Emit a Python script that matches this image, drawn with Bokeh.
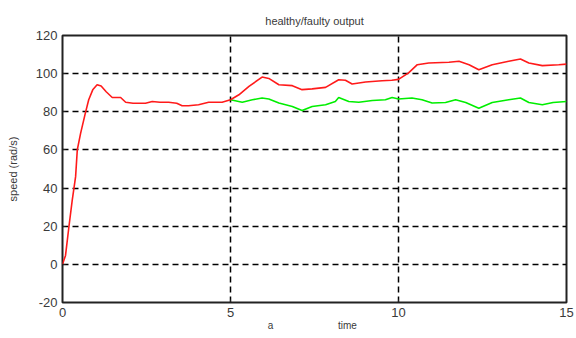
from bokeh.plotting import figure
from bokeh.models import Range1d, FixedTicker, LinearAxis
from bokeh.embed import file_html
from bokeh.resources import INLINE

# Common (healthy = faulty) part, 0..5 s
t_common = [0, 0.09, 0.19, 0.29, 0.39, 0.44, 0.54, 0.68, 0.78, 0.9, 1.03, 1.15, 1.3,
            1.48, 1.73, 1.88, 2.1, 2.47, 2.67, 2.9, 3.16, 3.4, 3.56, 3.75, 4.05, 4.35,
            4.75, 5.0]
speed_common = [0, 4.7, 19.6, 33.7, 46, 60, 68.8, 79.3, 86.3, 91.5, 94.2, 93.5, 90.5,
                87.5, 87.5, 85, 84.5, 84.5, 85.4, 85, 85, 84.5, 83.2, 83.2, 83.7, 85,
                85, 86.3]

# Faulty output (red) after 5 s
t_faulty = [5.0, 5.25, 5.55, 5.94, 6.14, 6.44, 6.84, 7.13, 7.43, 7.83, 8.22, 8.42, 8.62,
            9.02, 9.51, 9.8, 10.0, 10.3, 10.56, 10.9, 11.5, 11.8, 12.1, 12.39, 12.79,
            13.28, 13.63, 13.88, 14.28, 14.77, 15.0]
speed_faulty = [86.3, 88.9, 93.3, 98.2, 97.5, 94.2, 93.7, 91.6, 92, 92.8, 96.8, 96.5,
                94.6, 95.6, 96.3, 96.5, 97, 100.4, 104.7, 105.6, 106, 106.5, 104.7, 102,
                104.7, 106.5, 107.7, 105.6, 104.2, 104.7, 105]

# Healthy output (green) after 5 s
t_healthy = [5.0, 5.35, 5.65, 5.94, 6.14, 6.44, 6.84, 7.13, 7.43, 7.83, 8.12, 8.22, 8.52,
             8.82, 9.22, 9.61, 9.81, 10.0, 10.4, 10.7, 11.0, 11.4, 11.7, 12.0, 12.39,
             12.79, 13.28, 13.63, 13.88, 14.28, 14.6, 15.0]
speed_healthy = [86.3, 85, 86.3, 87.2, 86.7, 84.6, 82.8, 80.7, 82.8, 83.7, 85.4, 87.5,
                 85.4, 85, 85.9, 86.3, 87.5, 86.7, 87.2, 86.3, 84.6, 84.9, 86.3, 84.9,
                 81.9, 84.9, 86.3, 87.2, 84.9, 83.7, 84.9, 85.4]

x_ticks = [0, 5, 10, 15]
y_ticks = [-20, 0, 20, 40, 60, 80, 100, 120]

# bottom captions ("a" sub-figure mark and the "time" axis title) and where they sit
caption_pos = [6.19, 8.48]
caption_text = ["a", "time"]

TXT = "#3a3a3a"
FONT = "Liberation Sans"

p = figure(width=576, height=338, output_backend="svg", toolbar_location=None,
           x_range=Range1d(0, 15), y_range=Range1d(-20, 120),
           min_border_left=62, min_border_right=10, min_border_top=35,
           min_border_bottom=36)

p.title.text = "healthy/faulty output"
p.title.align = "center"
p.title.text_font = FONT
p.title.text_font_size = "11px"
p.title.text_font_style = "normal"
p.title.text_color = TXT
p.title.standoff = 17

p.xaxis.ticker = FixedTicker(ticks=x_ticks)
p.yaxis.ticker = FixedTicker(ticks=y_ticks)
p.yaxis.major_label_overrides = {-20: "-20"}
for ax in (p.xaxis[0], p.yaxis[0]):
    ax.major_label_text_font = FONT
    ax.major_label_text_font_size = "13px"
    ax.major_label_text_color = TXT
    ax.axis_line_color = None
    ax.major_tick_line_color = "#222222"
    ax.major_tick_in = 3
    ax.major_tick_out = 0
    ax.minor_tick_line_color = None
p.xaxis.major_label_standoff = 5
p.yaxis.major_label_standoff = 5

p.yaxis.axis_label = "speed (rad/s)"
p.yaxis.axis_label_text_font = FONT
p.yaxis.axis_label_text_font_size = "11px"
p.yaxis.axis_label_text_font_style = "normal"
p.yaxis.axis_label_text_color = TXT
p.yaxis.axis_label_standoff = 14

# second (label-only) axis below, carrying the bottom captions
cap_axis = LinearAxis(ticker=FixedTicker(ticks=caption_pos),
                      major_label_overrides={v: t for v, t in zip(caption_pos, caption_text)})
cap_axis.axis_line_color = None
cap_axis.major_tick_line_color = None
cap_axis.minor_tick_line_color = None
cap_axis.major_tick_in = 0
cap_axis.major_tick_out = 0
cap_axis.major_label_standoff = 0
cap_axis.major_label_text_font = FONT
cap_axis.major_label_text_font_size = "10px"
cap_axis.major_label_text_color = TXT
p.add_layout(cap_axis, "below")

p.outline_line_color = "#222222"
p.outline_line_width = 2

p.xgrid.grid_line_color = "black"
p.ygrid.grid_line_color = "black"
p.xgrid.grid_line_dash = "6 4"
p.ygrid.grid_line_dash = "6 4"
p.xgrid.grid_line_width = 1.5
p.ygrid.grid_line_width = 1.5
p.xgrid[0].ticker = FixedTicker(ticks=x_ticks)

p.line(t_healthy, speed_healthy, line_color="#00ee00", line_width=1.6)
p.line(t_common, speed_common, line_color="#ff1a1a", line_width=1.6)
p.line(t_faulty, speed_faulty, line_color="#ff1a1a", line_width=1.6)

open("out.html", "w").write(file_html(p, INLINE))
